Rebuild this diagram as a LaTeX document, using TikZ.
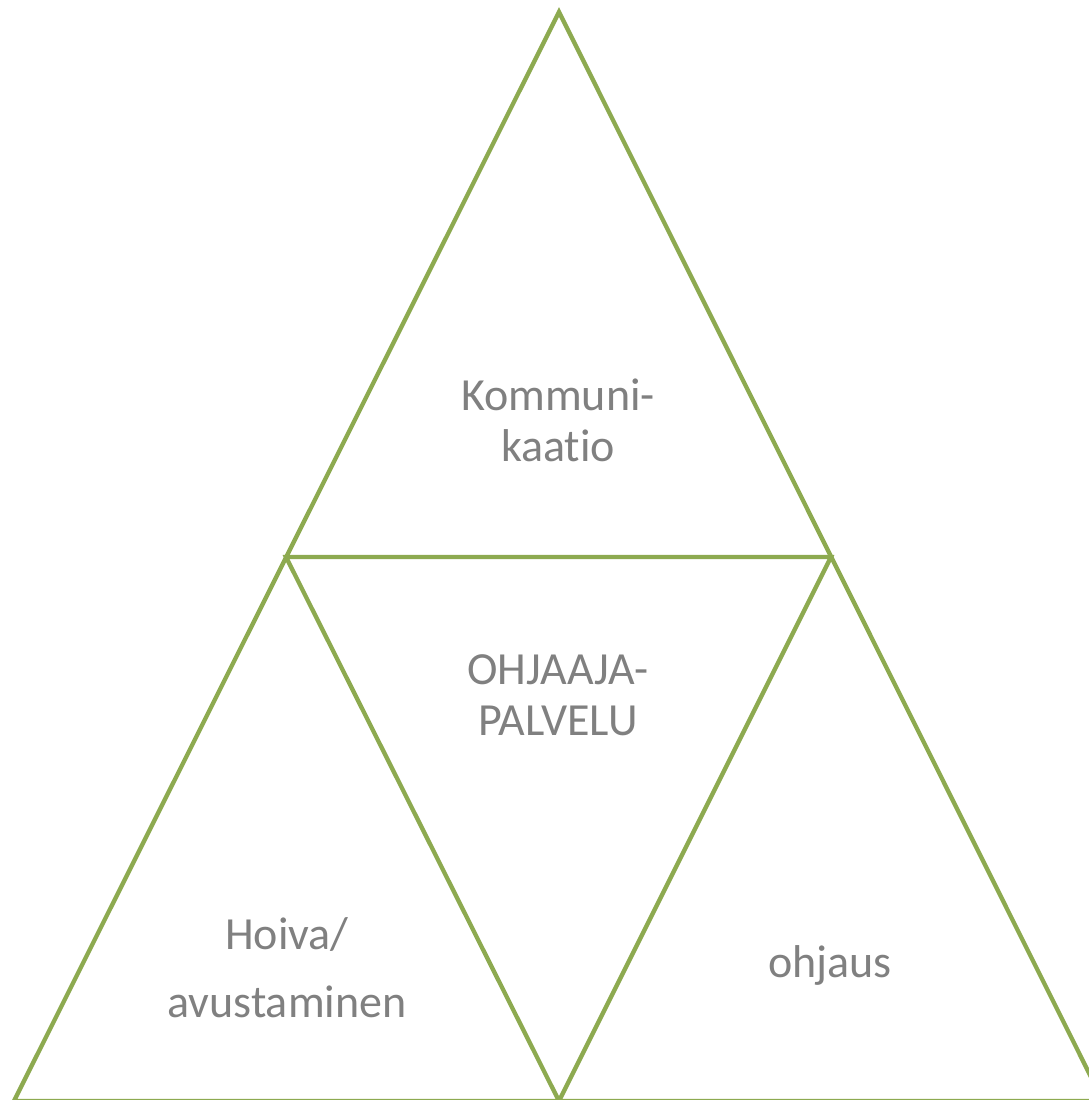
\documentclass[tikz,border=0pt]{standalone}
\usepackage{fontspec}
\setmainfont{Carlito}[Ligatures=NoCommon]
\definecolor{leaf}{RGB}{141,170,80}
\definecolor{txtgray}{RGB}{128,128,128}
\begin{document}
\begin{tikzpicture}[x=1pt, y=-1pt, every node/.style={text=txtgray, align=center, font=\fontsize{46}{51}\selectfont}]
    \useasboundingbox (0,0) rectangle (1089,1100);
    \clip (0,0) rectangle (1089,1100);

    \coordinate (apex) at (559,12);
    \coordinate (midL) at (286,557);
    \coordinate (midR) at (831,557);
    \coordinate (botL) at (14,1101);
    \coordinate (botM) at (559,1101);
    \coordinate (botR) at (1103,1101);

    % outer triangle
    \draw[line width=4.3pt, leaf, line join=miter] (apex) -- (botR) -- (botL) -- cycle;

    % inner triangle
    \draw[line width=4.3pt, leaf, line join=miter] (midL) -- (midR) -- (botM) -- cycle;

    \node (komm) at (558,420) {Kommuni-\\kaatio};
    \node (ohj) at (558,695) {OHJAAJA-\\PALVELU};
    \node (hoiva) at (287,968) {Hoiva/\\[17pt]avustaminen};
    \node (ohjaus) at (830,965) {ohjaus};
\end{tikzpicture}
\end{document}
